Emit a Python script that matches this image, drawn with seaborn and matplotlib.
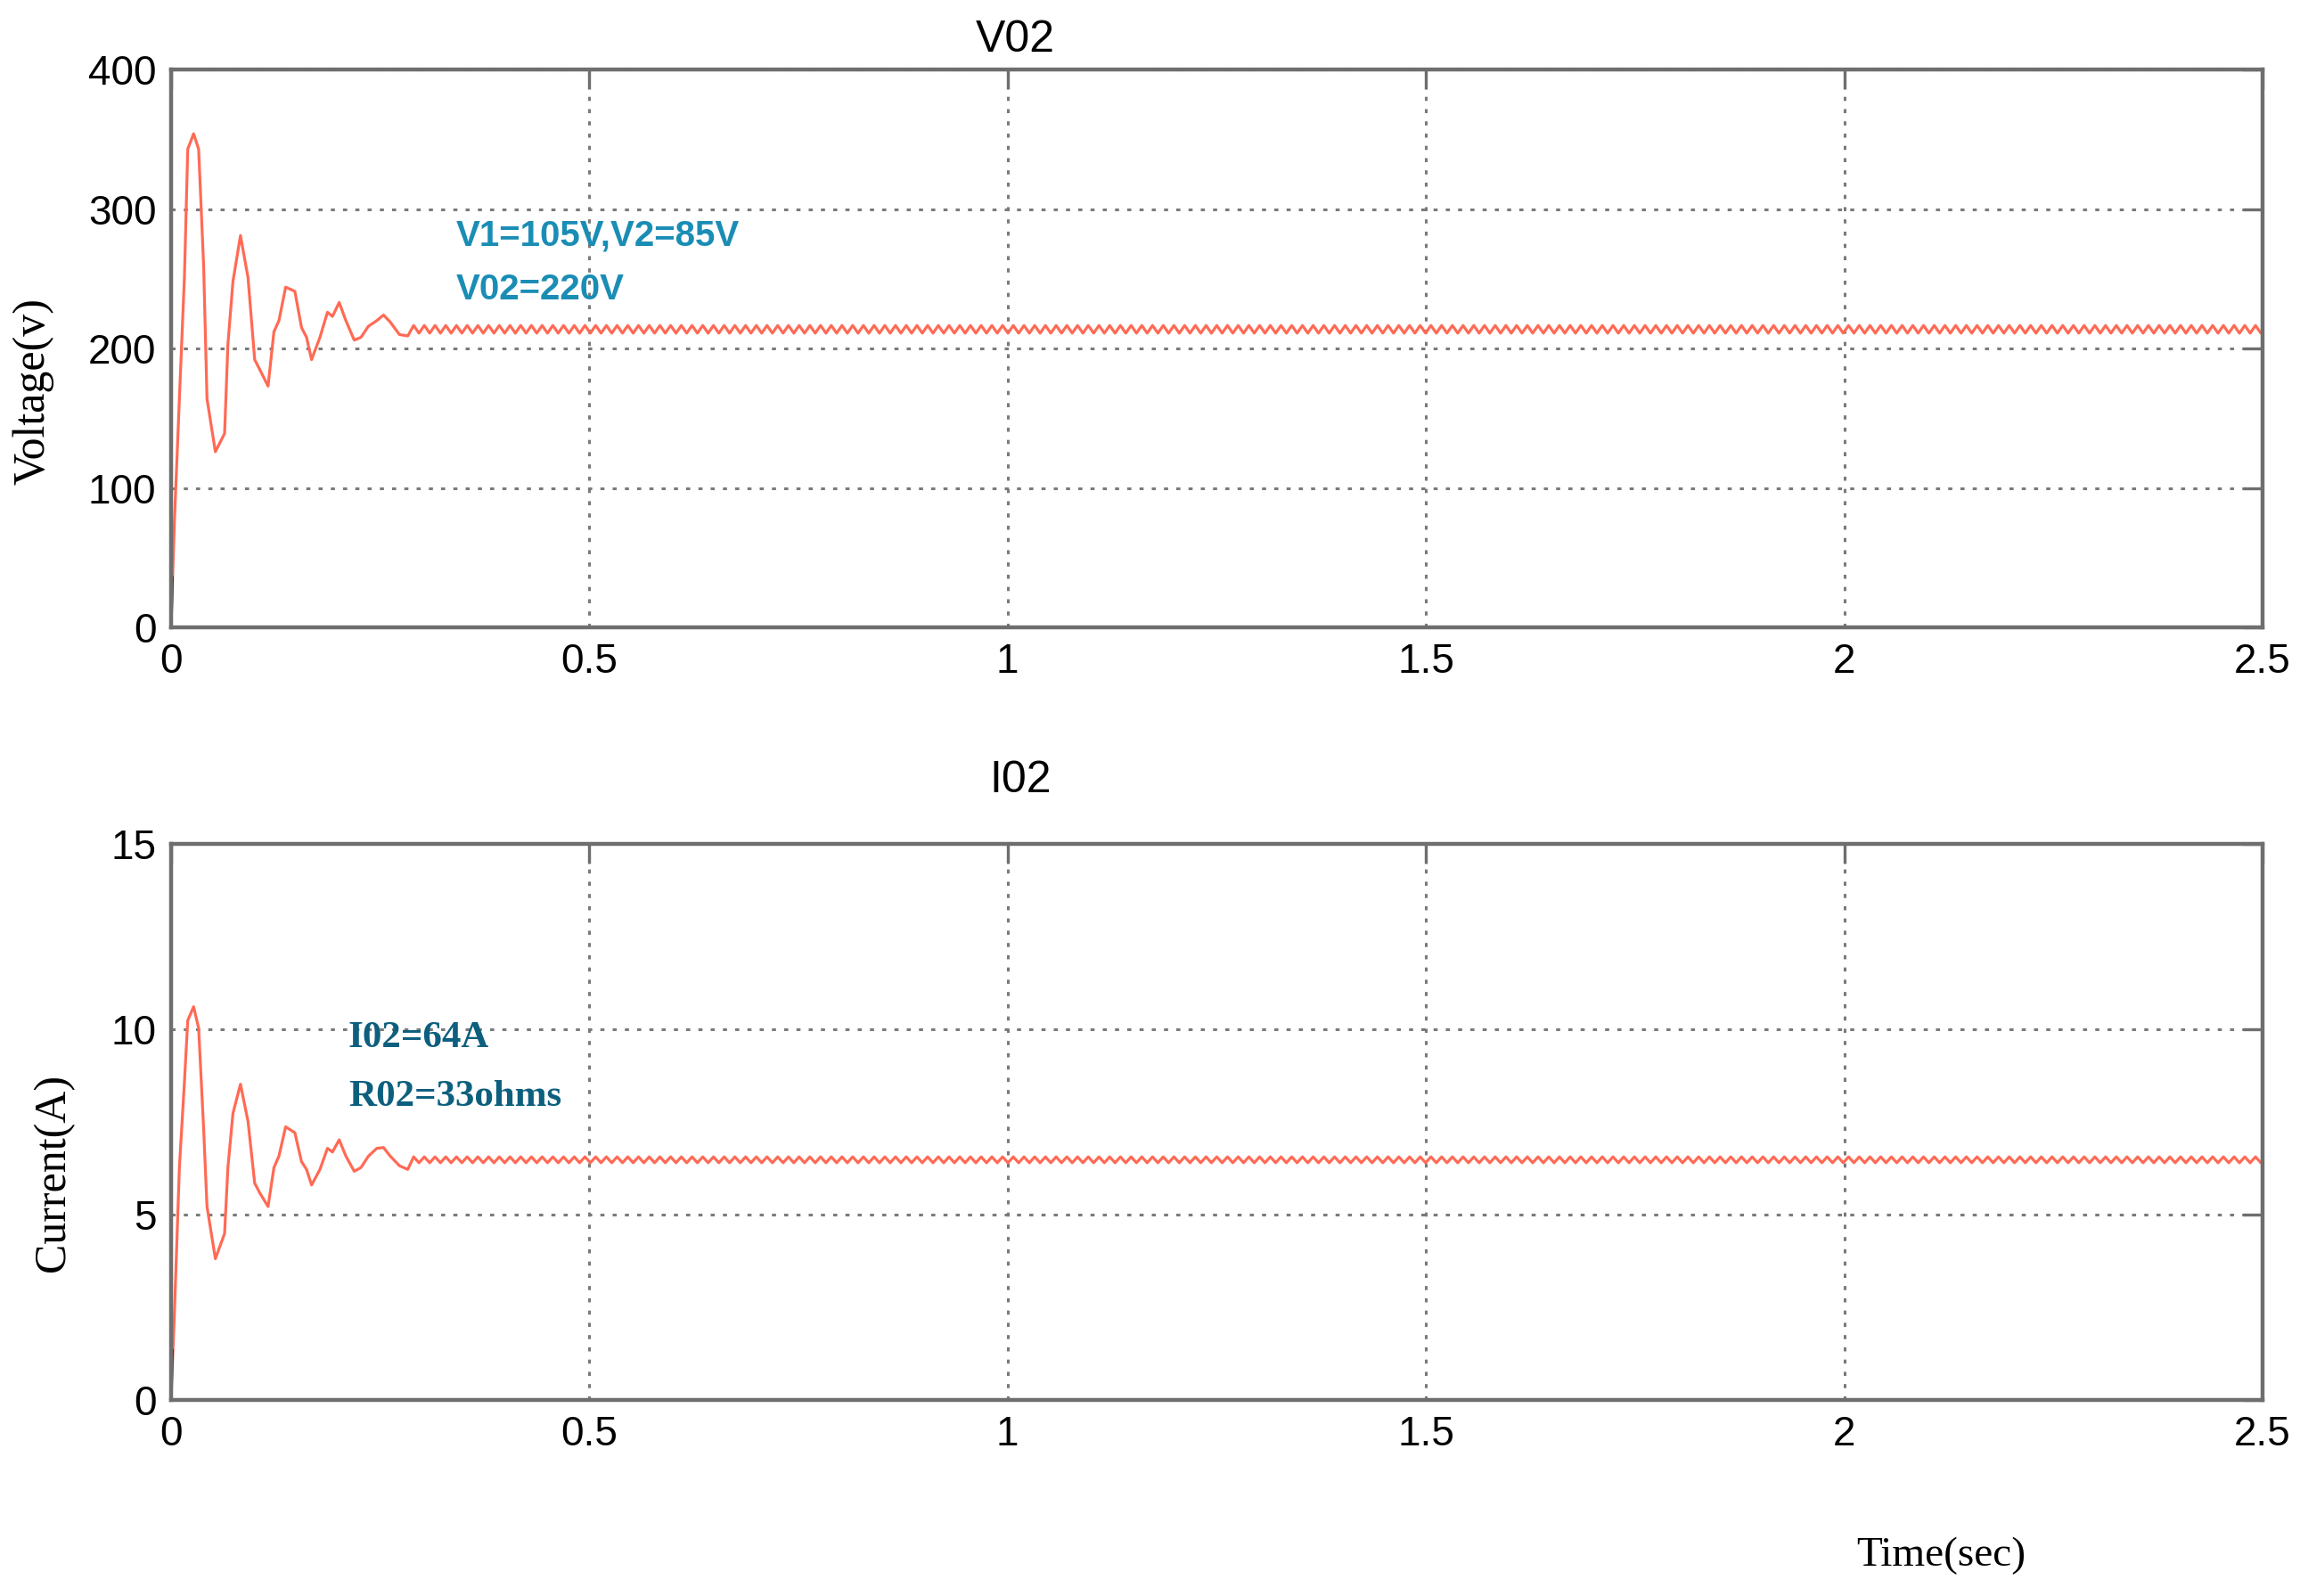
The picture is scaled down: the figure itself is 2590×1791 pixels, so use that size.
import numpy as np
import pandas as pd
import seaborn as sns
import matplotlib.pyplot as plt

# transient part (time in s)
t_tr = [0, 0.004, 0.010, 0.016, 0.020, 0.027, 0.033, 0.039, 0.043, 0.053,
        0.064, 0.068, 0.074, 0.083, 0.092, 0.100, 0.106, 0.116, 0.123, 0.129,
        0.137, 0.148, 0.156, 0.162, 0.168, 0.178, 0.187, 0.193, 0.201, 0.209,
        0.219, 0.227, 0.236, 0.246, 0.254, 0.262, 0.273, 0.283]
v_tr = [0, 75, 164, 251, 343, 354, 343, 259, 164, 126,
        139, 203, 248, 281, 251, 192, 185, 173, 212, 220,
        244, 241, 215, 208, 192, 208, 226, 223, 233, 220,
        206, 208, 216, 220, 224, 219, 210, 209]
i_tr = [0, 2.30, 6.27, 8.57, 10.24, 10.61, 10.03, 7.31, 5.22, 3.81,
        4.49, 6.27, 7.73, 8.52, 7.52, 5.85, 5.59, 5.22, 6.27, 6.58,
        7.37, 7.21, 6.43, 6.22, 5.80, 6.22, 6.79, 6.69, 7.02, 6.58,
        6.17, 6.27, 6.58, 6.79, 6.81, 6.58, 6.32, 6.22]

# steady state ripple (high / low levels, half period)
v_ripple = [216.5, 211]
i_ripple = [6.56, 6.40]
half_period = 0.0064

x_ticks = [0, 0.5, 1, 1.5, 2, 2.5]
v_ticks = [0, 100, 200, 300, 400]
i_ticks = [0, 5, 10, 15]

t_ss = np.arange(0.29, 2.5 + 1e-9, half_period)
n = len(t_ss)
v_ss = np.resize(v_ripple, n)
i_ss = np.resize(i_ripple, n)

df = pd.DataFrame({
    "t": np.concatenate([t_tr, t_ss]),
    "v": np.concatenate([v_tr, v_ss]),
    "i": np.concatenate([i_tr, i_ss]),
})

sns.set_style("white")
plt.rcParams['font.family'] = ['Liberation Sans', 'DejaVu Sans']
plt.rcParams['text.color'] = 'black'
plt.rcParams['xtick.color'] = 'black'
plt.rcParams['ytick.color'] = 'black'

fig = plt.figure(figsize=(25.9, 17.91), dpi=100)
ax1 = fig.add_axes([0.0741, 0.6069, 0.9062, 0.3495])
ax2 = fig.add_axes([0.0741, 0.1228, 0.9062, 0.3484])

line_c = '#ff6a55'
for ax, col, ticks, top in [(ax1, "v", v_ticks, 400), (ax2, "i", i_ticks, 15)]:
    sns.lineplot(data=df, x="t", y=col, ax=ax, color=line_c, lw=2.3,
                 sort=False, estimator=None)
    # dark start segment at t=0
    sns.lineplot(x=[0, 0.0015], y=[0, top * 0.09], ax=ax, color='#8b0000', lw=2.4)
    ax.set_xlim(0, 2.5)
    ax.set_ylim(0, top)
    ax.set_xticks(x_ticks)
    ax.set_xticklabels(['0', '0.5', '1', '1.5', '2', '2.5'])
    ax.set_yticks(ticks)
    ax.set_xlabel('')
    ax.set_ylabel('')
    ax.grid(True, color='#7a7a7a', lw=2.2, linestyle=(0, (1.5, 3.0)))
    ax.tick_params(direction='in', length=16, width=2.4, color='#6e6e6e',
                   labelsize=33, labelcolor='black', pad=12, top=True, right=True)
    for s in ax.spines.values():
        s.set_color('#6e6e6e')
        s.set_linewidth(3.2)
        s.set_visible(True)

fig.text(0.440, 0.975, 'V02', fontsize=36, ha='center', va='center')
fig.text(0.442, 0.511, 'I02', fontsize=36, ha='center', va='center')

fig.text(0.0143, 0.755, 'Voltage(v)', family='Liberation Serif', fontsize=36,
         rotation=90, ha='center', va='center')
fig.text(0.0232, 0.265, 'Current(A)', family='Liberation Serif', fontsize=36,
         rotation=90, ha='center', va='center')
fig.text(0.841, 0.025, 'Time(sec)', family='Liberation Serif', fontsize=34,
         ha='center', va='center')

ax1.text(0.341, 281, 'V1=105V,V2=85V', color='#1a8db5', fontsize=29,
         fontweight='bold', va='center')
ax1.text(0.341, 242, 'V02=220V', color='#1a8db5', fontsize=29,
         fontweight='bold', va='center')
ax2.text(0.212, 9.76, 'I02=64A', color='#0d5f7e', fontsize=31,
         family='Liberation Serif', fontweight='bold', va='center')
ax2.text(0.212, 8.17, 'R02=33ohms', color='#0d5f7e', fontsize=31,
         family='Liberation Serif', fontweight='bold', va='center')

fig.savefig('out.png', dpi=100)
